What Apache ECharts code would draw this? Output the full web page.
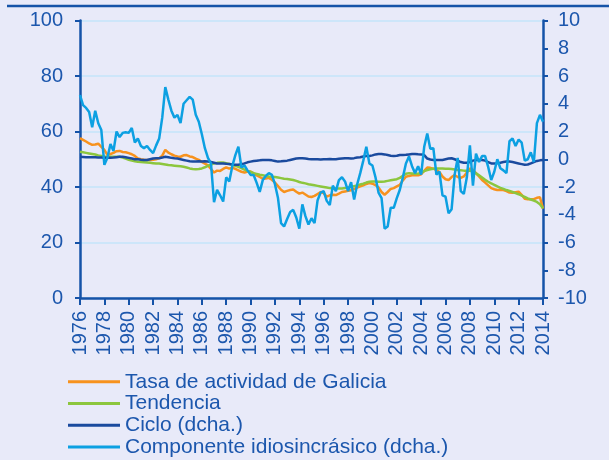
<!DOCTYPE html>
<html>
<head>
<meta charset="utf-8">
<script src="https://cdn.jsdelivr.net/npm/echarts@6/dist/echarts.min.js"></script>
<style>
html,body{margin:0;padding:0;background:#E8EAF9;}
#chart{width:609px;height:460px;}
</style>
</head>
<body>
<div id="chart"></div>
<script>
// Quarterly data 1976 T1 .. 2014 T1
var startYear = 1976;
var nPoints = 153;
var categories = [];
for (var k = 0; k < nPoints; k++) {
  categories.push((startYear + Math.floor(k / 4)) + ' T' + (k % 4 + 1));
}

var seriesNames = ['Tasa de actividad de Galicia', 'Tendencia', 'Ciclo (dcha.)', 'Componente idiosincrásico (dcha.)'];

var tasa = [
57.6,57.0,56.4,55.7,55.2,55.3,55.6,54.5,53.4,51.6,51.9,52.3,52.9,53.0,52.6,52.5,
52.2,51.8,51.2,50.3,50.0,49.8,49.7,49.7,49.8,50.0,50.4,51.3,53.4,52.4,51.8,51.3,
51.0,50.9,51.4,51.5,51.0,50.8,50.2,49.8,49.0,48.4,47.8,46.5,45.2,45.9,45.8,46.5,
47.1,46.6,47.0,46.5,46.0,45.5,45.2,45.6,45.6,44.9,44.2,43.6,43.0,43.1,43.3,42.6,
41.6,40.3,39.0,38.2,38.6,38.9,39.1,38.3,37.6,38.0,37.3,36.6,36.4,36.8,37.5,38.2,
37.8,36.5,37.0,37.2,37.1,37.6,38.2,38.4,38.6,38.8,39.3,39.8,40.2,40.6,41.1,41.4,
41.2,40.7,39.8,38.2,37.2,38.2,39.3,39.6,40.2,40.8,42.4,43.7,44.0,44.2,44.3,44.2,
44.6,45.8,47.0,46.9,46.6,46.1,45.4,43.8,42.8,42.5,43.6,44.3,43.6,43.3,43.8,45.2,
46.7,46.2,45.0,43.8,42.5,41.6,40.6,39.6,39.2,38.9,38.9,38.9,38.5,38.0,37.9,38.1,
38.3,37.2,35.8,35.6,35.6,35.6,36.1,36.3,32.2
];

var tendencia = [
52.7,52.5,52.3,52.1,51.9,51.7,51.4,51.2,51.0,50.9,50.9,50.9,50.9,50.9,50.6,50.2,
49.8,49.5,49.3,49.1,49.0,48.9,48.8,48.7,48.6,48.5,48.5,48.3,48.1,47.9,47.8,47.7,
47.6,47.5,47.3,47.0,46.7,46.5,46.4,46.5,46.7,47.1,47.6,48.1,48.5,48.7,48.8,48.8,
48.6,48.3,48.0,47.6,47.3,46.8,46.3,45.8,45.4,45.0,44.7,44.4,44.2,44.0,43.8,43.7,
43.6,43.4,43.2,43.0,42.9,42.7,42.5,42.2,41.8,41.5,41.3,41.0,40.8,40.6,40.4,40.2,
40.0,39.8,39.6,39.5,39.5,39.5,39.5,39.6,39.8,40.0,40.3,40.6,40.9,41.2,41.6,41.9,
42.0,42.0,41.9,41.9,42.0,42.2,42.4,42.6,42.8,43.3,44.0,44.8,45.0,44.9,44.8,44.8,
45.2,45.7,46.1,46.4,46.6,46.7,46.7,46.7,46.6,46.6,46.5,46.3,46.1,46.0,45.9,45.9,
45.9,45.5,44.9,44.2,43.4,42.6,41.9,41.3,40.8,40.2,39.7,39.3,38.9,38.6,38.2,37.8,
37.4,36.9,36.4,35.9,35.5,35.1,34.6,33.8,32.3
];

var ciclo = [
0.18,0.17,0.15,0.15,0.14,0.14,0.12,0.12,0.10,0.10,0.10,0.12,0.15,0.18,0.18,0.15,
0.10,0.05,0.00,0.00,-0.03,-0.05,-0.05,0.00,0.05,0.07,0.07,0.12,0.18,0.15,0.10,0.07,
0.05,0.00,-0.05,-0.10,-0.15,-0.17,-0.17,-0.15,-0.17,-0.15,-0.17,-0.20,-0.25,-0.30,-0.30,-0.30,
-0.33,-0.35,-0.38,-0.40,-0.40,-0.35,-0.30,-0.22,-0.17,-0.12,-0.10,-0.08,-0.05,-0.05,-0.05,-0.08,
-0.12,-0.17,-0.15,-0.12,-0.10,-0.05,0.00,0.05,0.07,0.07,0.05,0.02,0.00,0.00,0.00,-0.02,
0.00,0.00,0.02,0.00,0.00,0.03,0.05,0.07,0.07,0.05,0.08,0.12,0.15,0.20,0.23,0.23,
0.28,0.35,0.38,0.38,0.35,0.30,0.25,0.23,0.25,0.30,0.30,0.32,0.35,0.38,0.38,0.36,
0.35,0.30,0.05,-0.02,-0.05,-0.05,-0.05,-0.05,0.00,0.05,0.07,0.00,-0.10,-0.20,-0.25,-0.25,
-0.20,-0.10,-0.05,-0.05,-0.05,-0.10,-0.20,-0.30,-0.30,-0.28,-0.25,-0.20,-0.17,-0.17,-0.20,-0.25,
-0.30,-0.35,-0.40,-0.38,-0.30,-0.20,-0.12,-0.08,-0.05
];

var idiosincrasico = [
4.63,3.90,3.70,3.40,2.30,3.50,2.60,2.10,-0.40,0.10,1.10,0.60,2.00,1.60,1.90,1.95,
1.90,2.25,1.20,1.50,0.95,0.80,0.95,0.67,0.44,1.00,1.50,3.00,5.20,4.30,3.50,3.00,
3.20,2.60,4.00,4.25,4.50,4.30,3.20,2.70,1.80,0.80,0.10,-0.30,-3.10,-2.20,-2.60,-3.05,
-1.30,-1.60,-0.50,0.30,0.90,-0.60,-0.45,-0.80,-1.13,-1.13,-1.70,-2.35,-1.50,-1.20,-1.00,-1.13,
-1.80,-2.80,-4.60,-4.85,-4.30,-3.80,-3.65,-4.20,-5.00,-3.25,-4.10,-4.70,-4.25,-4.60,-2.95,-2.40,
-2.30,-3.00,-3.30,-1.90,-2.30,-1.50,-1.30,-1.60,-2.30,-1.65,-2.90,-1.80,-1.00,-0.10,0.90,-0.30,
-0.45,-1.30,-2.40,-2.80,-5.00,-4.85,-3.50,-3.50,-2.80,-2.20,-1.30,-0.30,0.20,-0.50,-1.00,-0.50,
-1.10,0.90,1.85,0.75,0.80,-1.10,-0.90,-2.60,-2.70,-3.90,-3.60,-1.10,0.10,-2.30,-2.50,-1.30,
1.00,-1.90,0.40,-0.20,0.23,0.23,-0.55,-1.50,-0.90,0.00,-0.65,-0.80,-1.00,1.30,1.50,0.95,
1.42,1.20,-0.10,0.00,0.50,-0.20,2.60,3.20,2.70
];

var leftTicks = {min: 0, max: 100, interval: 20};
var rightTicks = {min: -10, max: 10, interval: 2};

var axisBlue = '#1553A8';
var textBlue = '#1C57AD';
var fontFam = '"Liberation Sans", Arial, sans-serif';

var chart = echarts.init(document.getElementById('chart'), null, {renderer: 'canvas'});

function lineSeries(name, data, color, yIdx) {
  return {
    name: name,
    type: 'line',
    data: data,
    yAxisIndex: yIdx,
    showSymbol: false,
    symbol: 'none',
    lineStyle: {color: color, width: 2.5},
    itemStyle: {color: color},
    animation: false
  };
}

chart.setOption({
  backgroundColor: '#E8EAF9',
  animation: false,
  textStyle: {fontFamily: fontFam},
  grid: {left: 80, right: 66, top: 20.5, bottom: 162, containLabel: false},
  graphic: [{
    type: 'line',
    shape: {x1: 7, y1: 6, x2: 609, y2: 6},
    style: {stroke: axisBlue, lineWidth: 2.5}
  }],
  legend: {
    orient: 'vertical',
    left: 68,
    top: 371,
    height: 89,
    padding: 0,
    itemWidth: 52,
    itemHeight: 3,
    itemGap: 0,
    icon: 'rect',
    data: seriesNames,
    textStyle: {color: textBlue, fontSize: 21, fontFamily: fontFam, lineHeight: 21.7}
  },
  xAxis: {
    type: 'category',
    data: categories,
    boundaryGap: false,
    axisLine: {lineStyle: {color: axisBlue, width: 2.5}},
    axisTick: {interval: 7, length: 7, lineStyle: {color: axisBlue, width: 2}},
    axisLabel: {
      interval: 7,
      rotate: 90,
      margin: 13,
      color: textBlue,
      fontSize: 20,
      fontFamily: fontFam,
      formatter: function (v) { return v.split(' ')[0]; }
    },
    splitLine: {show: false}
  },
  yAxis: [{
    type: 'value',
    position: 'left',
    min: leftTicks.min, max: leftTicks.max, interval: leftTicks.interval,
    axisLine: {show: true, lineStyle: {color: axisBlue, width: 2.5}},
    axisTick: {show: true, length: 5, lineStyle: {color: axisBlue, width: 2}},
    axisLabel: {color: textBlue, fontSize: 20, fontFamily: fontFam, margin: 17},
    splitLine: {show: true, lineStyle: {color: '#C5E4FA', width: 1.5}}
  }, {
    type: 'value',
    position: 'right',
    min: rightTicks.min, max: rightTicks.max, interval: rightTicks.interval,
    axisLine: {show: true, lineStyle: {color: axisBlue, width: 2.5}},
    axisTick: {show: true, length: 5, lineStyle: {color: axisBlue, width: 2}},
    axisLabel: {color: textBlue, fontSize: 20, fontFamily: fontFam, margin: 15},
    splitLine: {show: false}
  }],
  series: [
    lineSeries(seriesNames[0], tasa, '#F7921E', 0),
    lineSeries(seriesNames[1], tendencia, '#8CC63E', 0),
    lineSeries(seriesNames[2], ciclo, '#1A4A9E', 1),
    lineSeries(seriesNames[3], idiosincrasico, '#0CA0E2', 1)
  ]
});
</script>
</body>
</html>
